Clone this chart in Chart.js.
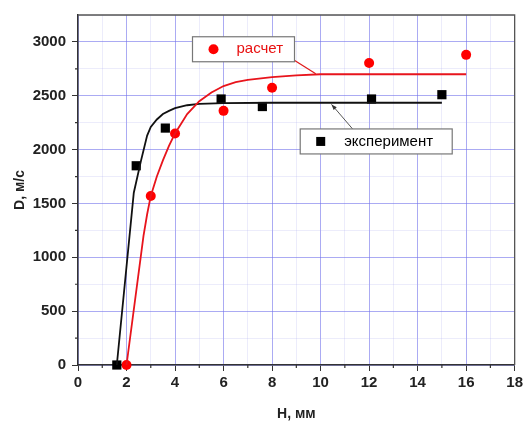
<!DOCTYPE html>
<html>
<head>
<meta charset="utf-8">
<script src="https://cdn.jsdelivr.net/npm/chart.js@4.4.1/dist/chart.umd.min.js"></script>
<style>
html, body { margin: 0; padding: 0; background: #fff; }
#wrap { width: 526px; height: 423px; }
</style>
</head>
<body>
<div id="wrap"><canvas id="chart"></canvas></div>
<script>
// measured points
const expH = [1.6, 2.4, 3.6, 5.9, 7.6, 12.1, 15.0];
const expD = [0, 1850, 2200, 2470, 2400, 2470, 2510];
const calcH = [2, 3, 4, 6, 8, 12, 16];
const calcD = [0, 1570, 2150, 2360, 2575, 2805, 2880];

// fitted curves
const expFitH = [1.6, 2.3, 2.6, 2.85, 3.0, 3.25, 3.5, 3.75, 4.0, 4.5, 5.0, 6.0, 8.0, 15.0];
const expFitD = [0, 1600, 1900, 2130, 2210, 2280, 2330, 2360, 2385, 2412, 2425, 2432, 2435, 2435];
const calcFitH = [2.0, 2.7, 2.85, 3.0, 3.25, 3.5, 3.75, 4.0, 4.5, 5.0, 5.5, 6.0, 6.5, 7.0, 8.0, 9.0, 10.0, 16.0];
const calcFitD = [0, 1200, 1400, 1570, 1750, 1900, 2035, 2150, 2330, 2450, 2530, 2590, 2627, 2648, 2673, 2690, 2700, 2700];

const xTicks = [0, 2, 4, 6, 8, 10, 12, 14, 16, 18];
const yTicks = [0, 500, 1000, 1500, 2000, 2500, 3000];

const toXY = (xs, ys) => xs.map((v, i) => ({ x: v, y: ys[i] }));

const MAJOR = 'rgba(115,115,235,0.6)';
const MINOR = 'rgba(170,170,235,0.22)';
const FONT = '"Liberation Sans", Arial, sans-serif';

const overlay = {
    id: 'overlay',
    afterDatasetsDraw(chart) {
        const { ctx, chartArea: a, scales: { x, y } } = chart;
        ctx.save();
        // frame top/right
        ctx.strokeStyle = '#555';
        ctx.lineWidth = 1.3;
        ctx.beginPath();
        ctx.moveTo(a.left, a.top);
        ctx.lineTo(a.right, a.top);
        ctx.lineTo(a.right, a.bottom);
        ctx.stroke();

        // minor ticks
        ctx.strokeStyle = '#333';
        ctx.lineWidth = 1.2;
        ctx.beginPath();
        x.ticks.forEach(t => {
            if (!xTicks.includes(t.value)) {
                const px = x.getPixelForValue(t.value);
                ctx.moveTo(px, a.bottom);
                ctx.lineTo(px, a.bottom + 3);
            }
        });
        y.ticks.forEach(t => {
            if (!yTicks.includes(t.value) && t.value < y.max) {
                const py = y.getPixelForValue(t.value);
                ctx.moveTo(a.left, py);
                ctx.lineTo(a.left - 3, py);
            }
        });
        ctx.stroke();

        // legend box: расчет
        ctx.font = '15px ' + FONT;
        ctx.textBaseline = 'middle';
        let bx = x.getPixelForValue(4.72), by = y.getPixelForValue(3048);
        let bw = 102, bh = 25;
        ctx.lineWidth = 1.2;
        ctx.beginPath();
        ctx.moveTo(bx + bw - 1, by + bh - 2);
        ctx.lineTo(x.getPixelForValue(9.8), y.getPixelForValue(2705));
        ctx.strokeStyle = '#e01818';
        ctx.stroke();
        ctx.fillStyle = '#fff';
        ctx.fillRect(bx, by, bw, bh);
        ctx.strokeStyle = '#777';
        ctx.strokeRect(bx, by, bw, bh);
        ctx.fillStyle = '#ff0000';
        ctx.beginPath();
        ctx.arc(bx + 21, by + 12.5, 5, 0, Math.PI * 2);
        ctx.fill();
        ctx.fillStyle = '#e81010';
        ctx.fillText('расчет', bx + 44, by + 12.5);

        // legend box: эксперимент
        bx = x.getPixelForValue(9.16); by = y.getPixelForValue(2192);
        bw = 152; bh = 25;
        const sx = x.getPixelForValue(11.32), sy = by;
        const ex = x.getPixelForValue(10.45), ey = y.getPixelForValue(2420);
        ctx.strokeStyle = '#555';
        ctx.lineWidth = 1;
        ctx.beginPath();
        ctx.moveTo(sx, sy);
        ctx.lineTo(ex, ey);
        ctx.stroke();
        const ang = Math.atan2(ey - sy, ex - sx);
        ctx.fillStyle = '#333';
        ctx.beginPath();
        ctx.moveTo(ex, ey);
        ctx.lineTo(ex - 6 * Math.cos(ang - 0.35), ey - 6 * Math.sin(ang - 0.35));
        ctx.lineTo(ex - 6 * Math.cos(ang + 0.35), ey - 6 * Math.sin(ang + 0.35));
        ctx.closePath();
        ctx.fill();
        ctx.fillStyle = '#fff';
        ctx.fillRect(bx, by, bw, bh);
        ctx.strokeStyle = '#777';
        ctx.lineWidth = 1.2;
        ctx.strokeRect(bx, by, bw, bh);
        ctx.fillStyle = '#000';
        ctx.fillRect(bx + 16, by + 8, 9, 9);
        ctx.fillText('эксперимент', bx + 44, by + 12.5);
        ctx.restore();
    }
};

new Chart(document.getElementById('chart'), {
    type: 'scatter',
    data: {
        datasets: [
            {
                label: 'расчет (кривая)',
                data: toXY(calcFitH, calcFitD),
                showLine: true,
                borderColor: '#e8141c',
                borderWidth: 1.8,
                pointRadius: 0,
                tension: 0,
                clip: false
            },
            {
                label: 'эксперимент (кривая)',
                data: toXY(expFitH, expFitD),
                showLine: true,
                borderColor: '#111',
                borderWidth: 1.8,
                pointRadius: 0,
                tension: 0,
                clip: false
            },
            {
                label: 'эксперимент',
                data: toXY(expH, expD),
                pointStyle: 'rect',
                pointRadius: 6.5,
                backgroundColor: '#000',
                borderColor: '#000',
                borderWidth: 0,
                clip: false
            },
            {
                label: 'расчет',
                data: toXY(calcH, calcD),
                pointStyle: 'circle',
                pointRadius: 5,
                backgroundColor: '#ff0000',
                borderColor: '#ff0000',
                borderWidth: 0,
                clip: false
            }
        ]
    },
    options: {
        responsive: true,
        maintainAspectRatio: false,
        animation: false,
        layout: { padding: { top: 12, right: 10, left: 0, bottom: 0 } },
        plugins: {
            legend: { display: false },
            tooltip: { enabled: false }
        },
        scales: {
            x: {
                type: 'linear',
                min: 0,
                max: 18,
                afterFit: s => { s.height = 58; },
                afterBuildTicks: s => {
                    s.ticks = [];
                    for (let v = 0; v <= 18; v++) s.ticks.push({ value: v });
                },
                ticks: {
                    padding: 3,
                    autoSkip: false,
                    maxRotation: 0,
                    color: '#222',
                    font: { family: FONT, size: 15, weight: 'bold' },
                    callback: v => xTicks.includes(v) ? String(v) : ''
                },
                grid: {
                    color: c => xTicks.includes(c.tick.value) ? MAJOR : MINOR,
                    tickColor: c => xTicks.includes(c.tick.value) ? '#333' : 'rgba(0,0,0,0)',
                    tickLength: 6,
                    lineWidth: 1
                },
                border: { color: '#333', width: 1.5 },
                title: {
                    display: true,
                    text: 'H, мм',
                    color: '#222',
                    font: { family: FONT, size: 14, weight: 'bold' },
                    padding: { top: 2, bottom: 0 }
                }
            },
            y: {
                type: 'linear',
                min: 0,
                max: 3250,
                afterFit: s => { s.width = 78; },
                afterBuildTicks: s => {
                    s.ticks = [];
                    for (let v = 0; v <= 3250; v += 250) s.ticks.push({ value: v });
                },
                ticks: {
                    padding: 6,
                    autoSkip: false,
                    color: '#222',
                    font: { family: FONT, size: 15, weight: 'bold' },
                    callback: v => yTicks.includes(v) ? String(v) : ''
                },
                grid: {
                    color: c => yTicks.includes(c.tick.value) ? MAJOR : MINOR,
                    tickColor: c => yTicks.includes(c.tick.value) ? '#333' : 'rgba(0,0,0,0)',
                    tickLength: 6,
                    lineWidth: 1
                },
                border: { color: '#333', width: 1.5 },
                title: {
                    display: true,
                    text: 'D, м/с',
                    color: '#222',
                    font: { family: FONT, size: 14, weight: 'bold' },
                    padding: { top: 12, bottom: 0 }
                }
            }
        }
    },
    plugins: [overlay]
});
</script>
</body>
</html>
